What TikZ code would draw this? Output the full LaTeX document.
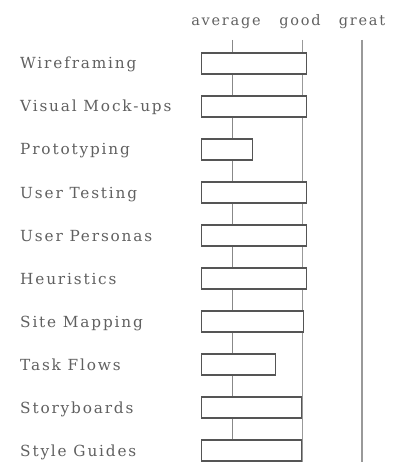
\documentclass[tikz,border=0pt]{standalone}
\usepackage{fontspec}
\setmainfont{DejaVu Serif}[LetterSpace=12]
\definecolor{txt}{HTML}{606060}
\definecolor{barline}{HTML}{555555}
\definecolor{gridA}{HTML}{888888}
\definecolor{gridB}{HTML}{999999}
\begin{document}
\begin{tikzpicture}[x=1pt,y=-1pt,
  lbl/.style={anchor=base west,inner sep=0,text=txt,font=\fontsize{15.3}{17}\selectfont},
  hdr/.style={anchor=base,inner sep=0,text=txt,font=\fontsize{14.5}{16}\selectfont},
  bar/.style={draw=barline,fill=white,line width=1.3pt,anchor=west,inner sep=0,minimum height=21pt},
  grid/.style={line width=0.9pt}]
\useasboundingbox (0,0) rectangle (401,462);
\node[hdr] (ha) at (226,26) {average};
\node[hdr] (hg) at (300,26) {good};
\node[hdr] (hr) at (362,26) {great};
\coordinate (at) at (232,40); \coordinate (ab) at (232,462);
\coordinate (gt) at (302,40); \coordinate (gb) at (302,462);
\coordinate (rt) at (362,40); \coordinate (rb) at (362,462);
\draw[grid,gridA] (at) -- (ab);
\draw[grid,gridB] (gt) -- (gb);
\draw[grid,gridB,line width=1.3pt] (rt) -- (rb);
\foreach \i/\t/\r in {0/Wireframing/306,1/Visual Mock-ups/306,2/Prototyping/252,3/User Testing/306,4/User Personas/306,5/Heuristics/306,6/Site Mapping/303,7/Task Flows/275,8/Storyboards/301,9/Style Guides/301}{
  \pgfmathsetmacro{\c}{63.5+43*\i}
  \pgfmathsetmacro{\w}{\r-201}
  \node[lbl] (l\i) at (20,\c+5.5) {\t};
  \node[bar,minimum width=\w pt] (b\i) at (201,\c) {};
}
\end{tikzpicture}
\end{document}
